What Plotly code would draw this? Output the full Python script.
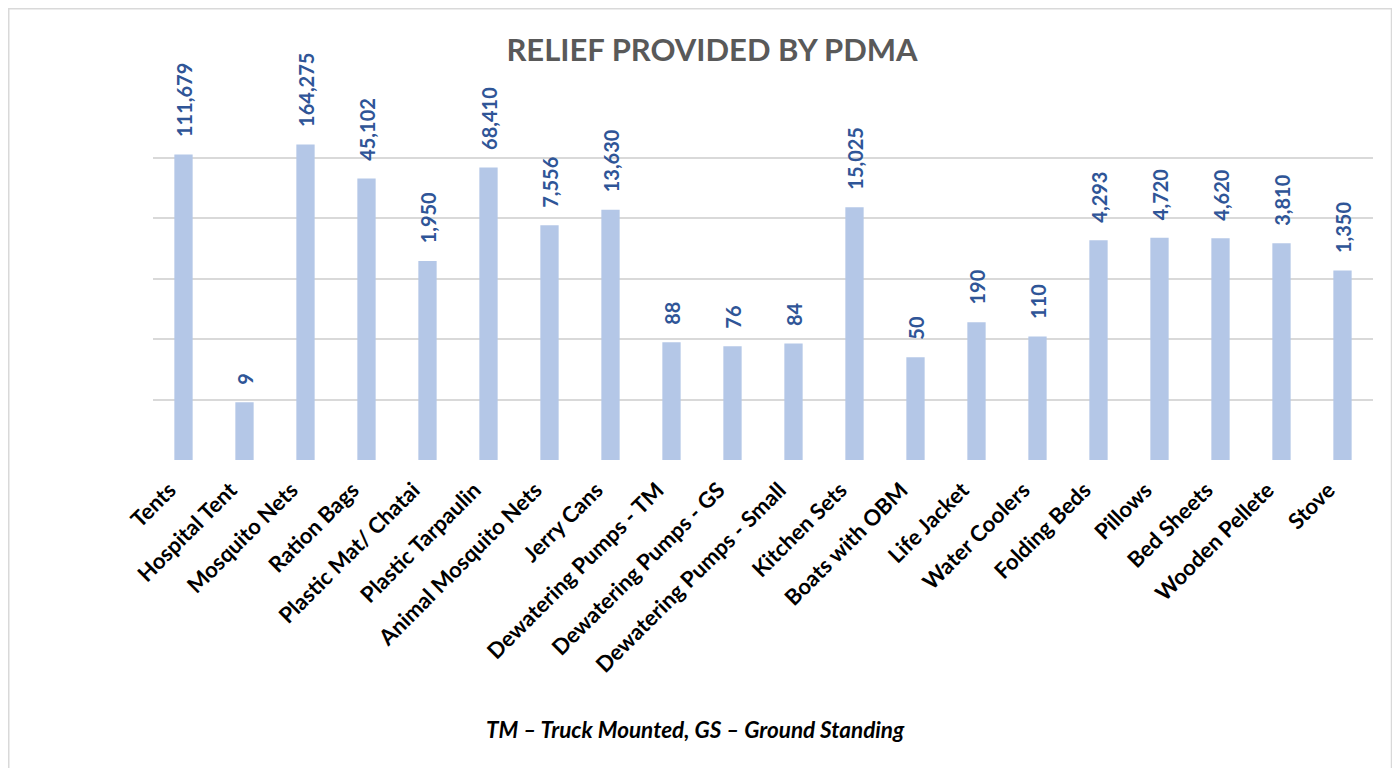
import plotly.graph_objects as go

categories = ["Tents", "Hospital Tent", "Mosquito Nets", "Ration Bags", "Plastic Mat/ Chatai",
              "Plastic Tarpaulin", "Animal Mosquito Nets", "Jerry Cans", "Dewatering Pumps - TM",
              "Dewatering Pumps - GS", "Dewatering Pumps - Small", "Kitchen Sets", "Boats with OBM",
              "Life Jacket", "Water Coolers", "Folding Beds", "Pillows", "Bed Sheets",
              "Wooden Pellete", "Stove"]
values = [111679, 9, 164275, 45102, 1950, 68410, 7556, 13630, 88, 76, 84, 15025, 50,
          190, 110, 4293, 4720, 4620, 3810, 1350]

title_text = "RELIEF PROVIDED BY PDMA"
footnote = "TM \u2013 Truck Mounted, GS \u2013 Ground Standing"

FONT = "Lato, Open Sans, sans-serif"

# page body has an 8px margin; work in figure pixel coordinates
OFF = 8
W, H = 1384, 760
L = 153 - OFF
R = W - (1373 - OFF)
T = 97 - OFF
B = H - (460 - OFF)
pw = W - L - R
ph = H - T - B

def fx(x_fig):
    return (x_fig - L) / pw

def fy(y_fig):
    return (H - B - y_fig) / ph

pad = "\u00a0\u00a0\u00a0"

fig = go.Figure(go.Bar(
    x=categories, y=values,
    marker=dict(color="#B4C7E7", line=dict(width=0)),
    text=[pad + f"{v:,}" for v in values],
    textposition="outside",
    textangle=-90,
    constraintext="none",
    cliponaxis=False,
    textfont=dict(family=FONT, size=20, color="#2F5597", weight="bold"),
))

fig.update_layout(
    width=W, height=H,
    margin=dict(l=L, r=R, t=T, b=B, autoexpand=False),
    paper_bgcolor="white", plot_bgcolor="white",
    bargap=0.70,
    showlegend=False,
    title=dict(text=f"<b>{title_text}</b>", x=(712 - OFF) / W, xanchor="center",
               y=1 - (50 - OFF) / H, yanchor="middle",
               font=dict(family=FONT, size=31, color="#595959")),
    xaxis=dict(tickangle=-45, showgrid=False, showline=False, ticks="",
               ticklabelshift=-14, ticklabelstandoff=12,
               tickfont=dict(family=FONT, size=22, color="black", weight="bold")),
    yaxis=dict(type="log", range=[0, 6], dtick=1, showticklabels=False,
               showgrid=True, gridcolor="#D9D9D9", gridwidth=1.5, zeroline=False,
               showline=False, ticks=""),
    annotations=[dict(text=f"<i><b>{footnote}</b></i>", xref="paper", yref="paper",
                      x=fx(695 - OFF), y=fy(729 - OFF), xanchor="center", yanchor="middle",
                      showarrow=False,
                      font=dict(family=FONT, size=22.5, color="black"))],
    shapes=[dict(type="rect", xref="paper", yref="paper",
                 x0=fx(0.75), x1=fx(1391.5 - OFF), y0=fy(H + 20), y1=fy(0.75),
                 line=dict(color="#D9D9D9", width=1.5), layer="below")],
)

fig.write_html("out.html")
